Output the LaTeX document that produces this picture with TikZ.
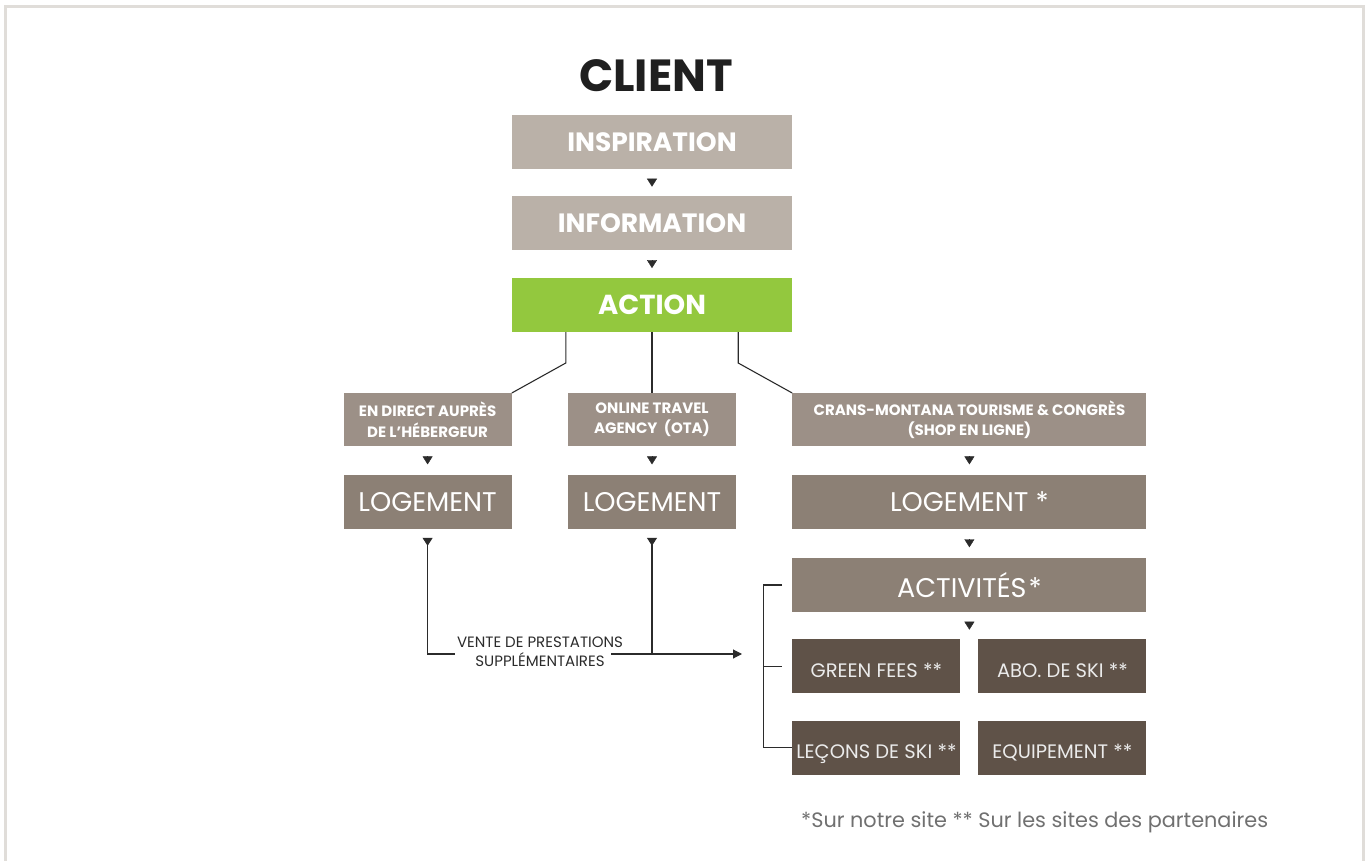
\documentclass[tikz,border=0pt]{standalone}
\usepackage{fontspec}
\setmainfont{Poppins}
\usepackage{xcolor}
\usetikzlibrary{arrows.meta, positioning}

\definecolor{paleBrown}{HTML}{BAB1A8}
\definecolor{actionGreen}{HTML}{93C83E}
\definecolor{midBrown}{HTML}{9C9087}
\definecolor{logBrown}{HTML}{8C8075}
\definecolor{darkBrown}{HTML}{5F5248}
\definecolor{frameGrey}{HTML}{E0DDD9}
\definecolor{lineGrey}{HTML}{2B2B2B}
\definecolor{noteGrey}{HTML}{707070}

\begin{document}
\begin{tikzpicture}[x=1pt, y=-1pt, node distance=27pt]
    % Define styles
    \tikzset{
        stage/.style={rectangle, fill=paleBrown, text=white, minimum width=280pt, minimum height=54pt, inner sep=0pt, font=\fontsize{26.5}{30}\selectfont\bfseries},
        action/.style={stage, fill=actionGreen, font=\fontsize{27.5}{30}\selectfont\bfseries},
        channel/.style={rectangle, fill=midBrown, text=white, minimum width=168pt, minimum height=53pt, inner sep=0pt, align=center, font=\fontsize{15}{20.5}\selectfont\bfseries},
        logement/.style={rectangle, fill=logBrown, text=white, minimum width=168pt, minimum height=54pt, inner sep=0pt, font=\fontsize{27}{30}\selectfont},
        activity/.style={rectangle, fill=darkBrown, text=white!92!black, minimum width=168pt, minimum height=54pt, inner sep=0pt, text height=21.6pt, text depth=0pt, font=\fontsize{19.5}{22}\selectfont},
        link/.style={draw=lineGrey, line width=1.1pt},
        marker/.style={-{Triangle[width=10pt, length=8pt]}, lineGrey, shorten <=9.5pt, shorten >=9.5pt}
    }
    \useasboundingbox (0,0) rectangle (1371,861);
    \draw[frameGrey, line width=2.5pt] (5.5,861) -- (5.5,6.3) -- (1363.5,6.3) -- (1363.5,861);

    % Nodes
    \node[inner sep=0pt, text=black!88, font=\fontsize{45}{50}\selectfont\bfseries] (client) at (656,76) {CLIENT};
    \node[stage] (insp) at (652,142) {INSPIRATION};
    \node[stage, below=of insp] (info) {INFORMATION};
    \node[action, below=of info] (act) {ACTION};

    \node[channel, below=61pt of act] (ota) {ONLINE TRAVEL\\AGENCY~ (OTA)};
    \node[channel, left=56pt of ota] (direct) {EN DIRECT AUPRÈS\\DE L’HÉBERGEUR};
    \node[channel, right=56pt of ota, minimum width=354pt] (cmt) {CRANS-MONTANA TOURISME \& CONGRÈS\\(SHOP EN LIGNE)};

    \node[logement, below=28pt of direct] (logA) {LOGEMENT};
    \node[logement, below=28pt of ota] (logB) {LOGEMENT};
    \node[logement, below=28pt of cmt, minimum width=354pt] (logC) {LOGEMENT *};
    \node[logement, below=29pt of logC, minimum width=354pt] (activ) {ACTIVITÉS\hspace{2pt}*};

    \node[activity, below right=27pt and 0pt of activ.south west] (green) {GREEN FEES **};
    \node[activity, below left=27pt and 0pt of activ.south east] (abo) {ABO. DE SKI **};
    \node[activity, below=27pt of green] (lecons) {LEÇONS DE SKI **};
    \node[activity, below=27pt of abo] (equip) {EQUIPEMENT **};

    \node[text=lineGrey, align=center, inner sep=0pt, font=\fontsize{15}{19}\selectfont] (vente) at (540,652) {VENTE DE PRESTATIONS\\SUPPLÉMENTAIRES};
    \node[text=noteGrey, anchor=west, inner sep=0pt, font=\fontsize{20.8}{24}\selectfont] (note) at (801,822) {*Sur notre site ** Sur les sites des partenaires};

    \coordinate (gapL) at (455,654);
    \coordinate (gapR) at (611,654);
    \coordinate (arrEnd) at (742,654);
    \coordinate (brk) at ([xshift=-29pt]activ.west);

    % Arrows
    \draw[marker] (insp) -- (info);
    \draw[marker] (info) -- (act);
    \draw[marker, shorten <=10pt, shorten >=10pt] (direct) -- (logA);
    \draw[marker, shorten <=10pt, shorten >=10pt] (ota) -- (logB);
    \draw[marker, shorten <=10pt, shorten >=10pt] (cmt) -- (logC);
    \draw[marker, shorten <=10.5pt, shorten >=10.5pt] (logC) -- (activ);
    \draw[marker] (activ.south) -- (activ.south |- green.north);

    \draw[link] ([xshift=54pt]act.south west) -- ++(0,31) -- (direct.north east);
    \draw[link] (act.south -| ota.north) -- (ota.north);
    \draw[link] ([xshift=-54pt]act.south east) -- ++(0,31) -- (cmt.north west);

    \draw[link, {Triangle[reversed, width=10pt, length=8pt]}-] ([yshift=-9pt]logA.south) |- (gapL);
    \draw[link, {Triangle[reversed, width=10pt, length=8pt]}-] ([yshift=-9pt]logB.south) -- (logB.south |- gapR);
    \draw[link, -{Triangle[width=9pt, length=9pt]}] (gapR) -- (arrEnd);

    \draw[link] ([xshift=-10pt]activ.west) -- (brk) |- (lecons.west);
    \draw[link] (brk |- green.west) -- ([xshift=-10pt]green.west);
\end{tikzpicture}
\end{document}
